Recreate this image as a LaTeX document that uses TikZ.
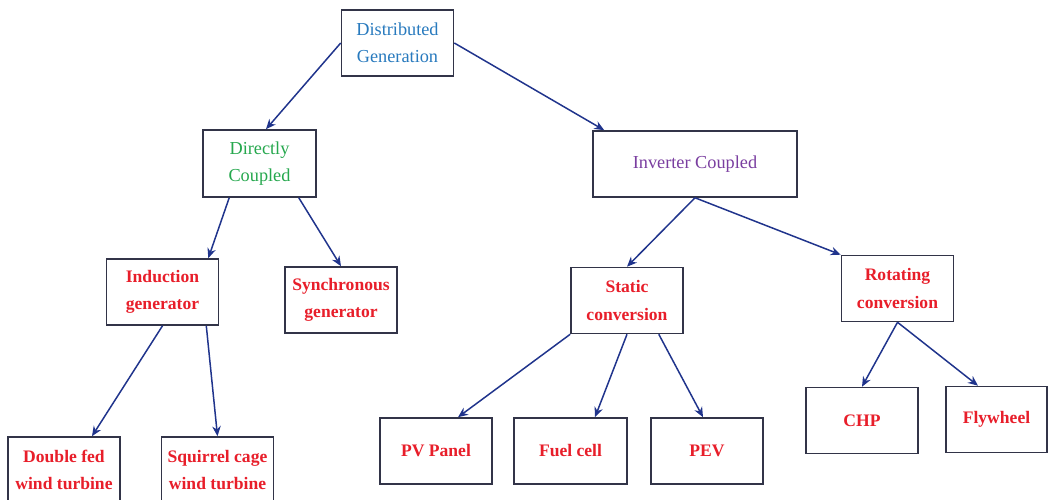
\documentclass[tikz,border=0pt]{standalone}
\usepackage{fontspec}
\setmainfont{Liberation Serif}
\usetikzlibrary{calc,arrows.meta}

\definecolor{dgblue}{RGB}{40,122,190}
\definecolor{dcgreen}{RGB}{38,168,78}
\definecolor{icpurple}{RGB}{122,62,160}
\definecolor{leafred}{RGB}{232,30,42}
\definecolor{boxline}{RGB}{50,52,72}
\definecolor{arrline}{RGB}{32,52,140}

\begin{document}
\begin{tikzpicture}[
    blk/.style={draw=boxline, line width=0.9pt, fill=white, minimum width=2.24cm,
      minimum height=1.32cm, inner sep=0pt, align=center,
      font=\fontsize{10.4}{15.5}\selectfont},
    leaf/.style={blk, text=leafred, font=\fontsize{10}{15.5}\selectfont\bfseries},
    arr/.style={draw=arrline, line width=0.85pt, -{Stealth[length=2mm,width=1.7mm]}}
  ]
  \useasboundingbox (0,0) rectangle (20.98,10);

  % levels: top, coupling, conversion, devices
  \node[blk, text=dgblue] (dg) at (7.95,9.14) {Distributed\\Generation};

  \node[blk, text=dcgreen, minimum height=1.34cm, minimum width=2.26cm] (dc) at (5.19,6.73) {Directly\\Coupled};
  \node[blk, text=icpurple, minimum width=4.08cm] (ic) at (13.9,6.72) {Inverter Coupled};

  \node[leaf] (ig) at (3.25,4.16) {Induction\\generator};
  \node[leaf] (sg) at (6.82,4.0) {Synchronous\\generator};
  \node[leaf] (sc) at (12.54,3.99) {Static\\conversion};
  \node[leaf] (rc) at (17.95,4.23) {Rotating\\conversion};

  \node[leaf] (df) at (1.28,0.6) {Double fed\\wind turbine};
  \node[leaf] (sq) at (4.35,0.6) {Squirrel cage\\wind turbine};
  \node[leaf] (pv) at (8.72,0.98) {PV Panel};
  \node[leaf, minimum width=2.26cm] (fc) at (11.41,0.98) {Fuel cell};
  \node[leaf] (pev) at (14.14,0.98) {PEV};
  \node[leaf] (chp) at (17.24,1.59) {CHP};
  \node[leaf, minimum width=2.02cm] (fw) at (19.93,1.61) {Flywheel};

  % connectors
  \draw[arr] (dg.west) -- ($(dc.north)+(0.13,0)$);
  \draw[arr] (dg.east) -- ($(ic.north west)+(0.24,0)$);

  \draw[arr] ($(dc.south west)+(0.54,0)$) -- ($(ig.north east)+(-0.22,0)$);
  \draw[arr] ($(dc.south east)+(-0.36,0)$) -- (sg.north);
  \draw[arr] (ic.south) -- (sc.north);
  \draw[arr] (ic.south) -- (rc.north west);

  \draw[arr] (ig.south) -- ($(df.north)+(0.56,0)$);
  \draw[arr] ($(ig.south east)+(-0.26,0)$) -- (sq.north);
  \draw[arr] (sc.south west) -- ($(pv.north)+(0.44,0)$);
  \draw[arr] (sc.south) -- ($(fc.north)+(0.49,0)$);
  \draw[arr] ($(sc.south east)+(-0.5,0)$) -- ($(pev.north)+(-0.08,0)$);
  \draw[arr] (rc.south) -- (chp.north);
  \draw[arr] (rc.south) -- ($(fw.north)+(-0.37,0)$);
\end{tikzpicture}
\end{document}
